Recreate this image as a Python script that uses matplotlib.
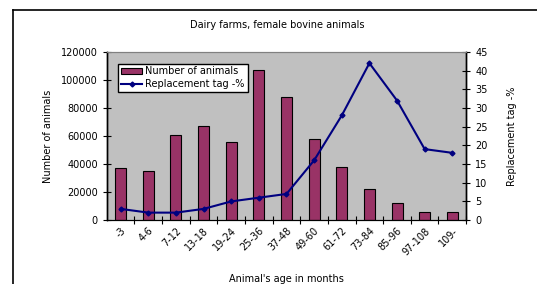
import numpy as np
import matplotlib.pyplot as plt
from matplotlib.lines import Line2D

plt.rcParams["font.family"] = ["DejaVu Sans"]
plt.rcParams["font.size"] = 7

# Data
age_groups = ["-3", "4-6", "7-12", "13-18", "19-24", "25-36", "37-48",
              "49-60", "61-72", "73-84", "85-96", "97-108", "109-"]
num_animals = [37000, 35000, 61000, 67000, 56000, 107000, 88000,
               58000, 38000, 22000, 12000, 5600, 5600]
replacement_pct = [3, 2, 2, 3, 5, 6, 7, 16, 28, 42, 32, 19, 18]

fig = plt.figure(figsize=(5.37, 2.84), dpi=100)
ax = fig.add_axes([0.199, 0.225, 0.669, 0.592])
ax.set_facecolor("#c0c0c0")

x = np.arange(len(age_groups))
bars = ax.bar(x, num_animals, width=0.4, color="#993366",
              edgecolor="black", linewidth=0.8, label="Number of animals",
              zorder=2)
ax.set_xlim(-0.5, len(age_groups) - 0.5)
ax.set_ylim(0, 120000)
ax.set_yticks(np.arange(0, 120001, 20000))
ax.set_ylabel("Number of animals", labelpad=6)
ax.set_xlabel("Animal's age in months", labelpad=12)

# Excel style: ticks between categories, labels at category centres
ax.set_xticks(x + 0.5, minor=False)
ax.set_xticklabels([])
ax.set_xticks(x, minor=True)
ax.set_xticklabels(age_groups, minor=True, rotation=45, ha="right",
                   rotation_mode="anchor")
ax.tick_params(axis="x", which="minor", length=0, pad=4)
ax.tick_params(axis="x", which="major", direction="inout", length=6)
ax.tick_params(axis="y", direction="inout", length=6)

ax2 = ax.twinx()
line, = ax2.plot(x, replacement_pct, color="#000080", linewidth=1.5,
                 marker="D", markersize=2.5, label="Replacement tag -%")
ax2.set_ylim(0, 45)
ax2.set_yticks(np.arange(0, 46, 5))
ax2.set_ylabel("Replacement tag -%", labelpad=14)
ax2.tick_params(axis="y", direction="inout", length=6)

for a in (ax, ax2):
    a.spines["top"].set_color("#808080")
    a.spines["left"].set_linewidth(1.0)
    a.spines["right"].set_linewidth(1.0)

ax.legend(handles=[bars, line], loc="upper left",
          bbox_to_anchor=(0.018, 0.96), fancybox=False, framealpha=1,
          edgecolor="black", fontsize=7, borderpad=0.3,
          handlelength=2.2, handletextpad=0.3, labelspacing=0.25)

fig.text(0.516, 0.9, "Dairy farms, female bovine animals", ha="center",
         fontsize=7)

# chart frame (only left and top edges visible in the crop)
fig.add_artist(Line2D([13 / 537, 13 / 537], [0, 1 - 10 / 284],
                      color="black", linewidth=1.2))
fig.add_artist(Line2D([13 / 537, 1], [1 - 10 / 284, 1 - 10 / 284],
                      color="black", linewidth=1.2))

fig.savefig("out.png", dpi=100)
